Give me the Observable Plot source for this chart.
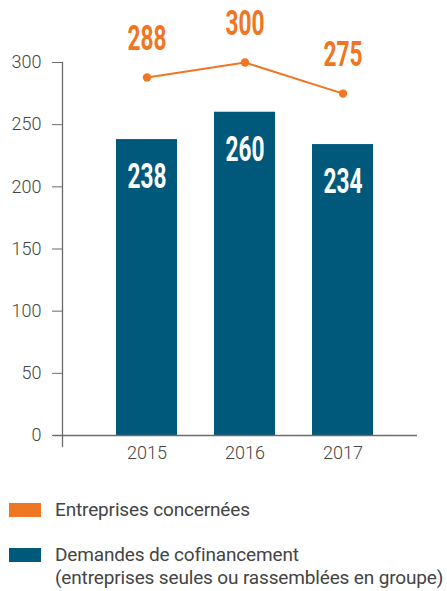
<!DOCTYPE html>
<html>
<head>
<meta charset="utf-8">
<script src="https://cdn.jsdelivr.net/npm/d3@7"></script>
<script src="https://cdn.jsdelivr.net/npm/@observablehq/plot@0.6"></script>
<style>
  html, body { margin: 0; padding: 0; background: #fff; }
  body { width: 447px; height: 591px; overflow: hidden; font-family: Roboto, "Liberation Sans", sans-serif; }
  #legend { position: absolute; left: 0; top: 0; width: 447px; }
  .item { position: absolute; left: 9px; display: flex; }
  .sw { width: 32px; height: 14px; margin-top: 5px; flex: none; }
  .lab { margin-left: 14px; font-size: 19px; line-height: 23px; color: #444; white-space: nowrap; letter-spacing: -0.15px; }
</style>
</head>
<body>
<div id="chart"></div>
<div id="legend"></div>
<script>
const years = ["2015", "2016", "2017"];
const demandes = [238, 260, 234];
const entreprises = [288, 300, 275];
const yTicks = [0, 50, 100, 150, 200, 250, 300];
const seriesNames = ["Entreprises concernées", "Demandes de cofinancement\n(entreprises seules ou rassemblées en groupe)"];

const orange = "#ef7622";
const blue = "#00587b";
const axisGray = "#6b6b6b";

const data = years.map((y, i) => ({year: y, demandes: demandes[i], entreprises: entreprises[i]}));

const chart = Plot.plot({
  width: 447,
  height: 470,
  marginLeft: 62,
  marginRight: 30,
  marginTop: 62,
  marginBottom: 35,
  style: {fontFamily: "Roboto, 'Liberation Sans', sans-serif", background: "white"},
  x: {domain: years, paddingInner: 0.38, paddingOuter: 0.19, insetLeft: 34, insetRight: 25, label: null},
  y: {domain: [0, 300], label: null},
  marks: [
    Plot.barY(data, {x: "year", y: "demandes", fill: blue}),
    Plot.ruleY([0], {stroke: axisGray, strokeWidth: 1.3, insetLeft: -9}),
    Plot.frame({anchor: "left", stroke: axisGray, strokeWidth: 1.3, insetBottom: -11}),
    Plot.axisY({ticks: yTicks, tickSize: 10, tickPadding: 11, fontSize: 18, fontWeight: 300, color: "#444", stroke: axisGray, label: null}),
    Plot.axisX({tickSize: 0, tickPadding: 11, fontSize: 18, fontWeight: 300, color: "#444", label: null}),
    Plot.lineY(data, {x: "year", y: "entreprises", stroke: orange, strokeWidth: 2}),
    Plot.dot(data, {x: "year", y: "entreprises", r: 4.2, fill: orange, stroke: null}),
    Plot.text(data, {x: "year", y: "entreprises", text: d => String(d.entreprises), dy: -39, fill: orange, fontSize: 36, fontWeight: "bold", className: "cond"}),
    Plot.text(data, {x: "year", y: "demandes", text: d => String(d.demandes), dy: 37, fill: "white", fontSize: 36, fontWeight: "bold", className: "cond"})
  ]
});
document.getElementById("chart").appendChild(chart);

// condense the big value labels horizontally around their anchor
d3.select(chart).selectAll("g.cond text").each(function() {
  const t = d3.select(this);
  const tr = t.attr("transform");
  const xa = t.attr("x");
  const xn = xa != null && /^[-\d.e]+$/.test(xa) ? +xa : null;
  if (xn != null) {
    t.attr("x", null);
    t.attr("transform", `${tr ? tr + " " : ""}translate(${xn},0) scale(0.63,1)`);
  } else {
    t.attr("transform", `${tr ? tr + " " : ""}scale(0.63,1)`);
  }
});

const legend = document.getElementById("legend");
const items = [{color: orange, name: seriesNames[0], top: 498}, {color: blue, name: seriesNames[1], top: 543}];
for (const it of items) {
  const div = document.createElement("div");
  div.className = "item";
  div.style.top = it.top + "px";
  const sw = document.createElement("div");
  sw.className = "sw";
  sw.style.background = it.color;
  const lab = document.createElement("div");
  lab.className = "lab";
  lab.innerHTML = it.name.split("\n").join("<br>");
  div.appendChild(sw);
  div.appendChild(lab);
  legend.appendChild(div);
}
</script>
</body>
</html>
